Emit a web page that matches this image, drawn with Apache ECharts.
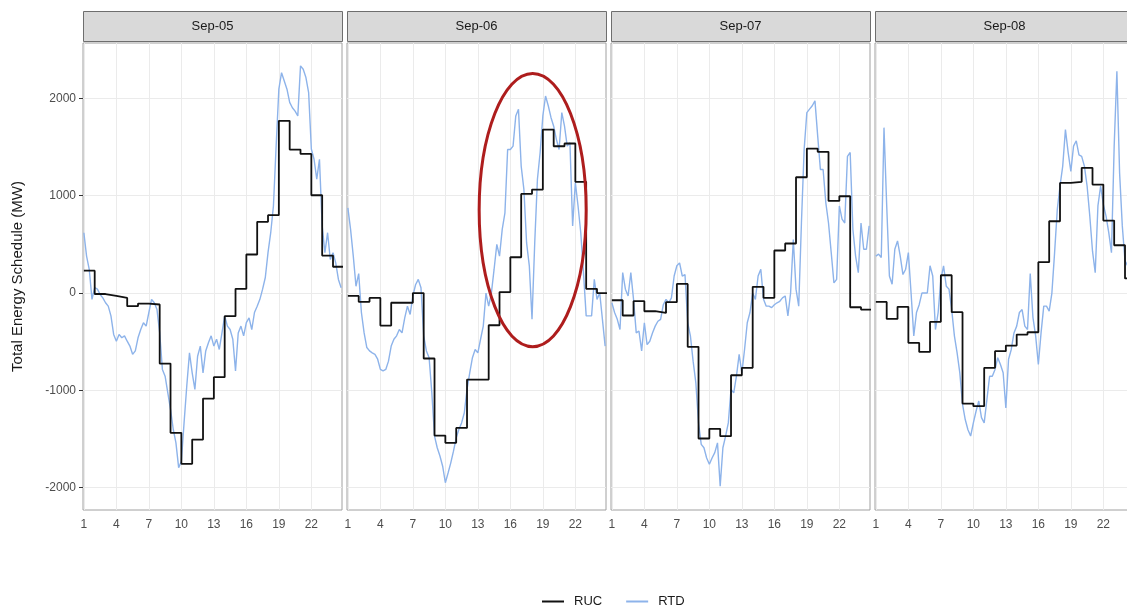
<!DOCTYPE html>
<html>
<head>
<meta charset="utf-8">
<script src="https://cdn.jsdelivr.net/npm/echarts@6/dist/echarts.min.js"></script>
<style>
  html, body { margin: 0; padding: 0; background: #fff; }
  #chart { width: 1127px; height: 609px; }
</style>
</head>
<body>
<div id="chart"></div>
<script>
const DAYS = ['Sep-05', 'Sep-06', 'Sep-07', 'Sep-08'];
const X_TICKS = [1, 4, 7, 10, 13, 16, 19, 22];
const Y_TICKS = [-2000, -1000, 0, 1000, 2000];

// RUC: hourly schedule, hours 1..24
const ruc05 = [230, -10, -30, -50, -135, -108, -118, -725, -1437, -1755, -1506, -1085, -865, -238, 43, 396, 732, 800, 1770, 1475, 1430, 1005, 385, 270];
const ruc06 = [-30, -90, -50, -334, -100, -100, 0, -673, -1465, -1540, -1386, -889, -889, -331, 10, 368, 1019, 1063, 1680, 1509, 1537, 1143, 43, 0];
const ruc07 = [-74, -231, -84, -187, -204, -94, 94, -553, -1495, -1396, -1471, -845, -769, 64, -49, 437, 509, 1190, 1485, 1451, 947, 995, -146, -170];
const ruc08 = [-91, -266, -142, -512, -605, -296, 183, -197, -1136, -1163, -769, -598, -540, -427, -403, 317, 738, 1132, 1143, 1287, 1115, 745, 491, 150];

// RTD: 15 minute samples starting at hour 1
const rtd05 = [620, 380, 240, -65, 55, 40, -15, -50, -100, -135, -235, -425,
  -495, -425, -460, -440, -495, -545, -630, -595, -460, -375, -305, -340,
  -200, -65, -100, -170, -410, -785, -855, -1025, -1195, -1400, -1540, -1795,
  -1730, -1335, -955, -615, -820, -990, -650, -545, -820, -595, -510, -440,
  -545, -475, -580, -410, -235, -340, -375, -475, -800, -410, -340, -440,
  -305, -255, -375, -200, -135, -65, 40, 160, 415, 620, 895, 1510,
  2095, 2265, 2180, 2095, 1960, 1905, 1870, 1820, 2335, 2300, 2215, 2060,
  1480, 1375, 1170, 1375, 690, 415, 620, 345, 415, 310, 140, 55];
const rtd06 = [875, 655, 380, 70, 200, -200, -410, -560, -595, -615, -630, -680,
  -785, -800, -785, -700, -545, -475, -440, -375, -410, -255, -135, -220,
  -30, 85, 140, 55, -440, -595, -665, -1025, -1470, -1590, -1675, -1780,
  -1950, -1850, -1745, -1625, -1490, -1400, -1335, -1230, -990, -820, -665, -580,
  -615, -475, -340, 0, -135, 0, 245, 500, 380, 655, 825, 1475,
  1475, 1510, 1820, 1890, 1305, 1065, 515, 280, -270, 515, 1170, 1445,
  1820, 2025, 1925, 1805, 1715, 1580, 1475, 1855, 1715, 1510, 1545, 690,
  1135, 895, 620, 210, -235, -235, -235, 140, -65, 0, -270, -545];
const rtd07 = [-100, -200, -270, -375, 210, 40, -30, 210, -65, -410, -390, -595,
  -305, -530, -495, -410, -340, -290, -270, -120, -65, -100, -50, 175,
  280, 310, 175, 190, -305, -440, -700, -920, -1335, -1555, -1590, -1695,
  -1760, -1695, -1640, -1540, -1985, -1590, -1470, -1335, -990, -1025, -855, -630,
  -820, -580, -305, -200, 0, -65, 175, 245, -65, -135, -135, -150,
  -120, -100, -85, -50, -30, -235, 0, 550, 40, -135, 720, 1475,
  1855, 1890, 1925, 1975, 1615, 1270, 1270, 930, 720, 415, 105, 140,
  895, 760, 720, 1405, 1445, 655, 380, 210, 720, 450, 450, 690];
const rtd08 = [380, 400, 365, 1700, 900, 175, 90, 450, 535, 380, 190, 245,
  415, 0, -440, -200, -120, 0, 0, 0, 280, 175, -375, -200,
  140, 280, 70, 40, -170, -440, -615, -820, -1145, -1300, -1405, -1470,
  -1335, -1215, -1110, -1280, -1335, -1095, -855, -855, -785, -665, -735, -820,
  -1180, -680, -580, -410, -340, -200, -170, -340, -375, 200, -250, -440,
  -735, -410, -135, -135, -185, 0, 415, 860, 1100, 1305, 1680, 1445,
  1250, 1510, 1565, 1420, 1405, 1305, 1100, 790, 430, 210, 895, 1100,
  910, 790, 620, 415, 1510, 2280, 1235, 690, 330, 280, 300, 250];

const RUC = [ruc05, ruc06, ruc07, ruc08];
const RTD = [rtd05, rtd06, rtd07, rtd08];

const FONT = '"Liberation Sans", Arial, sans-serif';
const RUC_COLOR = '#111111';
const RTD_COLOR = '#8DB3EA';
const PANEL_LEFT = [83, 347, 611, 875];
const PANEL_W = 259;
const PANEL_TOP = 43;
const PANEL_H = 467;
const X_MIN = 0.92, X_MAX = 24.83;
const Y_MIN = -2230, Y_MAX = 2570;

let chart = echarts.init(document.getElementById('chart'));

let grids = [], xAxes = [], yAxes = [], series = [];
DAYS.forEach(function (day, i) {
    grids.push({
        left: PANEL_LEFT[i], top: PANEL_TOP, width: PANEL_W, height: PANEL_H,
        show: true, backgroundColor: '#fff', borderColor: '#a0a0a0', borderWidth: 1,
        containLabel: false, outerBoundsMode: 'none'
    });
    xAxes.push({
        type: 'value', gridIndex: i, min: X_MIN, max: X_MAX,
        axisLine: {show: false},
        axisTick: {show: false, customValues: X_TICKS},
        axisLabel: {customValues: X_TICKS, color: '#4D4D4D', fontSize: 12, margin: 9, fontFamily: FONT},
        splitLine: {show: true, lineStyle: {color: '#EBEBEB', width: 1}}
    });
    yAxes.push({
        type: 'value', gridIndex: i, min: Y_MIN, max: Y_MAX,
        name: i === 0 ? 'Total Energy Schedule (MW)' : '',
        nameLocation: 'middle', nameGap: 58, nameRotate: 90,
        nameTextStyle: {fontSize: 15, color: '#1A1A1A', fontFamily: FONT},
        axisLine: {show: false},
        axisTick: {show: i === 0, length: 4, lineStyle: {color: '#333'}, customValues: Y_TICKS},
        axisLabel: {
            show: i === 0, customValues: Y_TICKS, color: '#4D4D4D', fontSize: 12, margin: 7, fontFamily: FONT,
            formatter: function (v) { return String(v); }
        },
        splitLine: {show: true, lineStyle: {color: '#EBEBEB', width: 1}}
    });
    series.push({
        name: 'RTD', type: 'line', xAxisIndex: i, yAxisIndex: i,
        symbol: 'none', z: 2,
        color: RTD_COLOR,
        lineStyle: {color: RTD_COLOR, width: 1.4},
        data: RTD[i].map(function (v, k) { return [1 + k * 0.25, v]; })
    });
    series.push({
        name: 'RUC', type: 'line', step: 'end', xAxisIndex: i, yAxisIndex: i,
        symbol: 'none', z: 3,
        color: RUC_COLOR,
        lineStyle: {color: RUC_COLOR, width: 1.8},
        data: RUC[i].map(function (v, k) { return [k + 1, v]; }).concat([[24.92, RUC[i][23]]])
    });
});

let option = {
    animation: false,
    backgroundColor: '#fff',
    textStyle: {fontFamily: FONT},
    grid: grids,
    xAxis: xAxes,
    yAxis: yAxes,
    legend: {
        data: ['RUC', 'RTD'], left: 537, top: 590,
        icon: 'rect', itemWidth: 22, itemHeight: 2, itemGap: 24,
        textStyle: {fontSize: 13, color: '#1A1A1A', fontFamily: FONT, padding: [0, 0, 0, 5]}
    },
    series: series
};
chart.setOption(option);

/* Facet strips and the highlighted area. */
let graphics = [];
DAYS.forEach(function (day, i) {
    graphics.push({
        type: 'rect', left: PANEL_LEFT[i], top: 11,
        shape: {width: PANEL_W, height: 30},
        style: {fill: '#D9D9D9', stroke: '#6E6E6E', lineWidth: 1}
    });
    graphics.push({
        type: 'text', x: PANEL_LEFT[i] + PANEL_W / 2, y: 26,
        style: {text: day, fill: '#1A1A1A', font: '13px ' + FONT, textAlign: 'center', textVerticalAlign: 'middle'}
    });
});
const ELLIPSE = {hour: 18.06, mw: 853, rxHours: 4.94, ryMW: 1404};
let c = chart.convertToPixel({gridIndex: 1}, [ELLIPSE.hour, ELLIPSE.mw]);
let e = chart.convertToPixel({gridIndex: 1}, [ELLIPSE.hour + ELLIPSE.rxHours, ELLIPSE.mw + ELLIPSE.ryMW]);
graphics.push({
    type: 'ellipse', z: 100,
    shape: {cx: c[0], cy: c[1], rx: Math.abs(e[0] - c[0]), ry: Math.abs(c[1] - e[1])},
    style: {fill: 'none', stroke: '#AE1D1D', lineWidth: 3}
});
chart.setOption({graphic: graphics});

window.addEventListener('resize', function () {
    chart?.resize();
});
</script>
</body>
</html>
